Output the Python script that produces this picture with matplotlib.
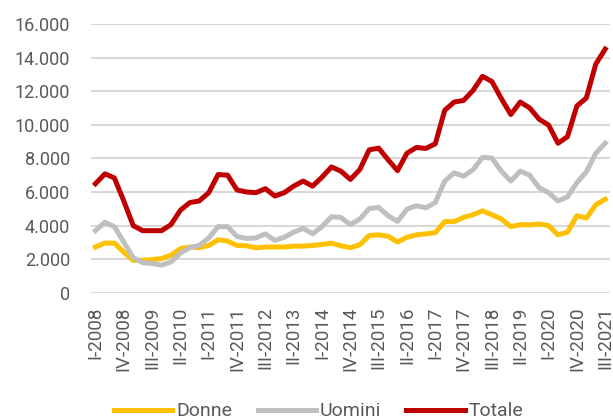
import numpy as np
import matplotlib.pyplot as plt
from matplotlib.ticker import FuncFormatter

# quarters I-2008 .. III-2021
roman = ["I", "II", "III", "IV"]
quarters = [f"{roman[q]}-{y}" for y in range(2008, 2022) for q in range(4)][:55]

donne = [2730, 2960, 2960, 2430, 1940, 1940, 1980, 2040, 2240, 2630,
         2730, 2690, 2820, 3160, 3080, 2820, 2800, 2680, 2730, 2730,
         2730, 2780, 2780, 2820, 2880, 2960, 2800, 2690, 2860, 3410,
         3450, 3370, 3020, 3310, 3450, 3510, 3580, 4240, 4240, 4490,
         4650, 4880, 4650, 4390, 3940, 4060, 4040, 4100, 4000, 3450,
         3610, 4590, 4450, 5240, 5570]
uomini = [3700, 4200, 3940, 3020, 2100, 1800, 1750, 1650, 1840, 2370,
          2690, 2820, 3270, 3940, 3940, 3350, 3240, 3270, 3510, 3120,
          3310, 3610, 3840, 3510, 3940, 4530, 4490, 4060, 4390, 5020,
          5080, 4590, 4250, 4980, 5180, 5060, 5370, 6650, 7140, 6940,
          7330, 8060, 8020, 7240, 6650, 7240, 7000, 6250, 5960, 5470,
          5710, 6550, 7200, 8310, 8900]
totale = [6490, 7080, 6840, 5470, 4000, 3700, 3700, 3700, 4060, 4920,
          5370, 5470, 5960, 7040, 7000, 6120, 6000, 5960, 6200, 5760,
          5960, 6350, 6650, 6350, 6880, 7490, 7240, 6750, 7330, 8510,
          8610, 7920, 7270, 8310, 8650, 8590, 8870, 10860, 11350, 11450,
          12040, 12880, 12570, 11550, 10610, 11350, 11000, 10330, 9980, 8900,
          9290, 11120, 11590, 13610, 14500]

plt.rcParams['font.family'] = ['Roboto', 'DejaVu Sans']

fig = plt.figure(figsize=(6.13, 4.19), dpi=100)
ax = fig.add_axes([0.148, 0.301, 0.847, 0.642])

x = np.arange(len(quarters))
ax.plot(x, donne, color="#FFC000", lw=3.6, label="Donne", solid_joinstyle="round")
ax.plot(x, uomini, color="#BFBFBF", lw=3.6, label="Uomini", solid_joinstyle="round")
ax.plot(x, totale, color="#C00000", lw=3.6, label="Totale", solid_joinstyle="round")

ax.set_xlim(-0.5, len(quarters) - 0.5)
ax.set_ylim(0, 16000)
ax.set_yticks(range(0, 16001, 2000))
ax.yaxis.set_major_formatter(FuncFormatter(lambda v, p: f"{int(v):,}".replace(",", ".")))
ax.set_xticks(x[::3])
ax.set_xticklabels(quarters[::3], rotation=90)
ax.tick_params(axis="y", length=0, labelsize=13, colors="#595959", pad=15)
ax.tick_params(axis="x", length=0, labelsize=13.5, colors="#595959", pad=10)
ax.grid(axis="y", color="#D9D9D9", lw=1.5)
ax.set_axisbelow(True)
for s in ax.spines.values():
    s.set_visible(False)

fig.legend(loc="center", bbox_to_anchor=(0.52, 0.018), ncol=3, frameon=False,
           fontsize=14, handlelength=3.0, handletextpad=0.2, columnspacing=1.3,
           labelcolor="#595959")

fig.savefig("out.png", dpi=100)
